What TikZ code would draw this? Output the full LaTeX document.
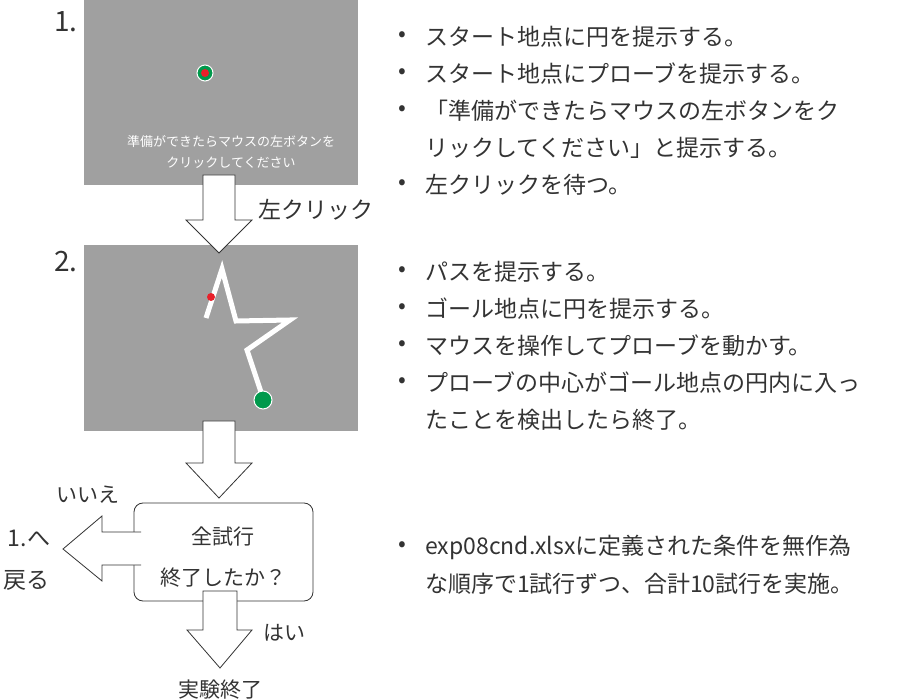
\documentclass[tikz,border=0pt]{standalone}
\usepackage{fontspec}
\setmainfont{Noto Sans CJK JP}
\usetikzlibrary{positioning}
\definecolor{panelgray}{HTML}{A0A0A0}
\definecolor{inkgray}{HTML}{333333}
\definecolor{dotgreen}{HTML}{00994C}
\definecolor{dotred}{HTML}{E8202A}
\tikzset{
  bigtxt/.style={font=\fontsize{23}{27}\selectfont, text=inkgray, inner sep=0pt},
  bullet/.style={bigtxt, anchor=west},
  paneltxt/.style={font=\fontsize{13}{16}\selectfont, text=white, inner sep=0pt},
  blockarrow/.style={draw=inkgray, fill=white, line width=0.8pt, line join=miter},
}
\newcommand{\bitem}[3]{%
  \node[bigtxt] at (402,#1) {•};
  \node[bullet] (#2) at (425,#1) {#3};}
\begin{document}
\begin{tikzpicture}[x=1pt,y=1pt,yscale=-1]
\useasboundingbox (0,0) rectangle (913,700);

%panel 1
\fill[panelgray] (84,0) rectangle (358,185);
\node[bigtxt, font=\fontsize{28}{30}\selectfont] (no1) at (66,22) {1.};
\fill[dotgreen, draw=white, line width=1pt] (205,73) circle (8);
\fill[dotred] (205,73) circle (4);
\node[paneltxt] (ready1) at (231,142) {準備ができたらマウスの左ボタンを};
\node[paneltxt] (ready2) at (231,163) {クリックしてください};

%panel 2
\fill[panelgray] (84,245) rectangle (358,431);
\node[bigtxt, font=\fontsize{28}{30}\selectfont] (no2) at (66,262) {2.};
\draw[white, line width=5pt, line join=miter] (206,318) -- (222,269) -- (236,321) -- (290,320) -- (247,350) -- (263,398);
\fill[dotred] (211,297) circle (4);
\fill[dotgreen, draw=white, line width=1pt] (263,400) circle (9);

%arrows between panels
\draw[blockarrow] (203,175) -- (235,175) -- (235,220) -- (252,220) -- (219,253) -- (186,220) -- (203,220) -- cycle;
\node[bigtxt, anchor=west] (lclick) at (258,210) {左クリック};
\draw[blockarrow] (203,421) -- (235,421) -- (235,463) -- (252,463) -- (219,498) -- (186,463) -- (203,463) -- cycle;

%decision
\draw[draw=inkgray, line width=0.8pt, rounded corners=9pt, fill=white] (134,503) rectangle (313,601);
\node[bigtxt, font=\fontsize{21}{25}\selectfont] (q1) at (223,537) {全試行};
\node[bigtxt, font=\fontsize{21}{25}\selectfont] (q2) at (223,578) {終了したか？};
\draw[blockarrow] (141,532) -- (102,532) -- (102,516) -- (63,549) -- (102,581) -- (102,565) -- (141,565);
\node[bigtxt, font=\fontsize{21}{25}\selectfont] (no) at (88,495) {いいえ};
\node[bigtxt] (back1) at (29,538) {1.へ};
\node[bigtxt] (back2) at (27,580) {戻る};
\draw[blockarrow] (203,591) -- (237,591) -- (237,630) -- (252,630) -- (220,668) -- (187,630) -- (203,630) -- cycle;
\node[bigtxt, font=\fontsize{21}{25}\selectfont] (yes) at (284,633) {はい};
\node[bigtxt, font=\fontsize{21}{25}\selectfont] (fin) at (220,690) {実験終了};

%bullets
\bitem{37}{b1}{スタート地点に円を提示する。}
\bitem{74}{b2}{スタート地点にプローブを提示する。}
\bitem{111}{b3}{「準備ができたらマウスの左ボタンをク}
\node[bullet] (b3b) at (425,148) {リックしてください」と提示する。};
\bitem{185}{b4}{左クリックを待つ。}
\bitem{272}{c1}{パスを提示する。}
\bitem{309}{c2}{ゴール地点に円を提示する。}
\bitem{346}{c3}{マウスを操作してプローブを動かす。}
\bitem{383}{c4}{プローブの中心がゴール地点の円内に入っ}
\node[bullet] (c4b) at (425,420) {たことを検出したら終了。};
\bitem{547}{d1}{exp08cnd.xlsxに定義された条件を無作為}
\node[bullet] (d1b) at (425,584) {な順序で1試行ずつ、合計10試行を実施。};
\end{tikzpicture}
\end{document}
